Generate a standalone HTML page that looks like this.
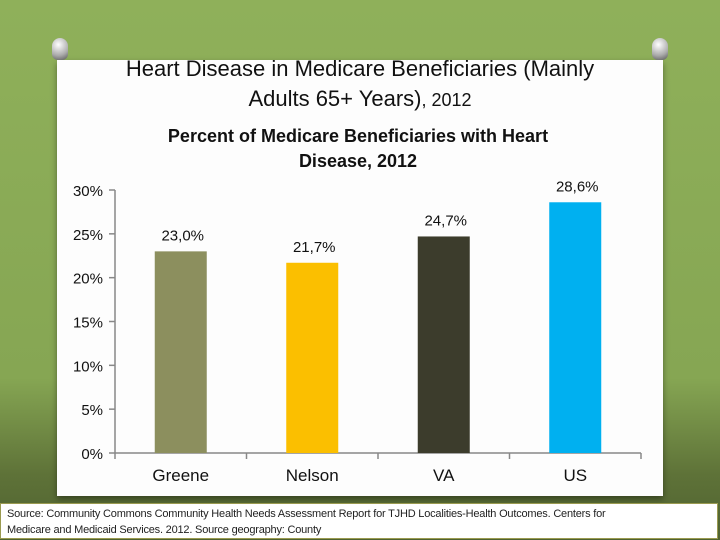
<!DOCTYPE html>
<html><head><meta charset="utf-8"><style>
body{margin:0;width:720px;height:540px;overflow:hidden;font-family:"Liberation Sans",sans-serif;}
#bg{position:absolute;left:0;top:0;width:720px;height:540px;background:linear-gradient(180deg,#8fb05a 0%,#86a653 70%,#5e7238 88%,#4f6230 100%);}
#card{position:absolute;left:57px;top:60px;width:606px;height:436px;background:#fdfdfd;box-shadow:0 3px 6px rgba(0,0,0,.4);}
.pin{position:absolute;width:16px;height:22px;border-radius:8px 8px 6px 6px;background:radial-gradient(circle at 40% 30%,#fff,#aaa 60%,#555);}
#src{position:absolute;left:0;top:503px;width:718px;height:36px;background:#fff;border:1px solid #9a9a50;font-size:11px;line-height:16px;color:#222;padding:2px 6px;box-sizing:border-box;letter-spacing:-0.2px;}
</style></head><body>
<div id="bg"></div>
<div id="card"></div>
<div class="pin" style="left:52px;top:38px"></div>
<div class="pin" style="left:652px;top:38px"></div>
<svg id="chart" width="720" height="540" style="position:absolute;left:0;top:0">
<text x="360" y="76" text-anchor="middle" font-size="22" fill="#111">Heart Disease in Medicare Beneficiaries (Mainly</text>
<text x="360" y="106" text-anchor="middle" font-size="22" fill="#111">Adults 65+ Years)<tspan font-size="18">, 2012</tspan></text>
<text x="358" y="142" text-anchor="middle" font-size="18" font-weight="bold" fill="#111">Percent of Medicare Beneficiaries with Heart</text>
<text x="358" y="167" text-anchor="middle" font-size="18" font-weight="bold" fill="#111">Disease, 2012</text>
<g id="g"></g>
</svg>
<div id="src">Source: Community Commons Community Health Needs Assessment Report for TJHD Localities-Health Outcomes. Centers for<br>Medicare and Medicaid Services. 2012. Source geography: County</div>
<script>
const categories=["Greene","Nelson","VA","US"];
const values=[23.0,21.7,24.7,28.6];
const valueLabels=["23,0%","21,7%","24,7%","28,6%"];
const colors=["#8c8f5e","#fbbf00","#3c3c2c","#00b0f0"];
const yTicks=[0,5,10,15,20,25,30];
const x0=115,x1=641,y0=453,y1=190,yMax=30;
const ns="http://www.w3.org/2000/svg",g=document.getElementById('g');
const Y=v=>y0-(v/yMax)*(y0-y1);
const bw=(x1-x0)/categories.length;
const X=i=>x0+bw*(i+0.5);
function mk(t,a){const e=document.createElementNS(ns,t);for(const k in a)e.setAttribute(k,a[k]);g.appendChild(e);return e;}
let ax=mk('line',{x1:x0,y1:y1,x2:x0,y2:y0,stroke:'#888','stroke-width':1.5});


let bx=mk('line',{x1:x0,y1:y0,x2:x1,y2:y0,stroke:'#888','stroke-width':1.5});


yTicks.forEach(t=>{
 mk('line',{x1:x0-6,y1:Y(t),x2:x0,y2:Y(t),stroke:'#888','stroke-width':1.5});
 const l=mk('text',{x:x0-12,y:Y(t)+6,'text-anchor':'end','font-size':15,fill:'#111'});
 l.textContent=t+'%';
 
 
});
for(let i=0;i<=categories.length;i++)mk('line',{x1:x0+bw*i,y1:y0,x2:x0+bw*i,y2:y0+6,stroke:'#888','stroke-width':1.5});
categories.forEach((c,i)=>{
 const r=mk('rect',{x:X(i)-26,y:Y(values[i]),width:52,height:y0-Y(values[i]),fill:colors[i]});
 
 
 const v=mk('text',{x:X(i)+2,y:Y(values[i])-11,'text-anchor':'middle','font-size':15,fill:'#111'});
 v.textContent=valueLabels[i];
 
 
 const l=mk('text',{x:X(i),y:y0+28,'text-anchor':'middle','font-size':17,fill:'#111'});
 l.textContent=c;
 
 
});
</script>
</body></html>
